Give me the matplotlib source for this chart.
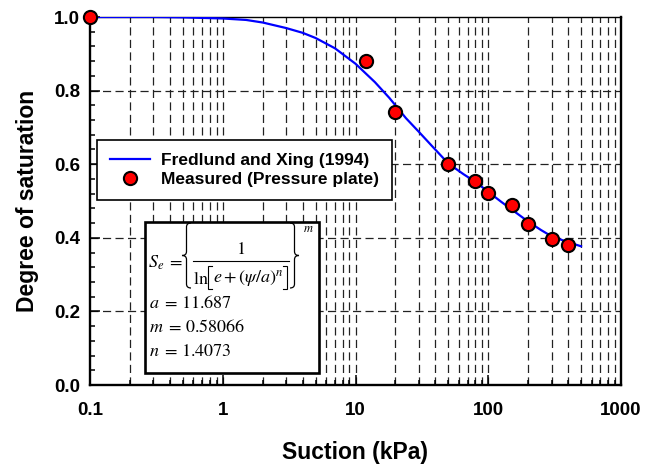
import numpy as np
import matplotlib
matplotlib.use("Agg")
import matplotlib.pyplot as plt
from matplotlib.patches import Rectangle, PathPatch
from matplotlib.path import Path
from matplotlib.lines import Line2D
from matplotlib.ticker import LogLocator, FixedLocator, FuncFormatter

plt.rcParams["font.family"] = ["Liberation Sans", "DejaVu Sans"]
plt.rcParams["mathtext.fontset"] = "stix"

W, H = 661, 466

# measured points (pressure plate)
meas_suction = [0.1, 12, 20, 50, 80, 100, 150, 200, 300, 400]
meas_sat = [1.0, 0.880, 0.742, 0.600, 0.555, 0.521, 0.489, 0.438, 0.398, 0.381]

# fitted curve, values
fit_suction = [0.1, 0.3, 0.5, 1, 1.5, 2, 3, 4, 5, 7, 10, 14, 18, 24, 30, 38,
               50, 65, 80, 100, 125, 150, 200, 250, 300, 400, 500]
fit_sat = [1.000, 1.000, 0.999, 0.996, 0.992, 0.985, 0.970, 0.957, 0.943, 0.915,
           0.873, 0.823, 0.780, 0.725, 0.688, 0.648, 0.602, 0.573, 0.552, 0.525,
           0.498, 0.477, 0.444, 0.421, 0.404, 0.388, 0.377]

fit_params = [("a", "11.687"), ("m", "0.58066"), ("n", "1.4073")]


def px(x, y):
    # pixel position (from top left) -> figure fraction
    return x / W, 1 - y / H


def brace(ax, xtip, xend, ytop, ybot, r=4):
    xm = (xtip + xend) / 2.0
    ymid = (ytop + ybot) / 2.0
    pts = [(xend, ytop), (xm, ytop), (xm, ytop + r), (xm, ymid - r),
           (xm, ymid), (xtip, ymid), (xm, ymid), (xm, ymid + r),
           (xm, ybot - r), (xm, ybot), (xend, ybot)]
    codes = [Path.MOVETO, Path.CURVE3, Path.CURVE3, Path.LINETO,
             Path.CURVE3, Path.CURVE3, Path.CURVE3, Path.CURVE3,
             Path.LINETO, Path.CURVE3, Path.CURVE3]
    verts = [px(x, y) for x, y in pts]
    ax.add_patch(PathPatch(Path(verts, codes), transform=ax.figure.transFigure,
                           fill=False, lw=0.9, edgecolor="black", zorder=7,
                           clip_on=False))


def bracket(ax, xv, xh, ytop, ybot):
    pts = [px(xh, ytop), px(xv, ytop), px(xv, ybot), px(xh, ybot)]
    xs, ys = zip(*pts)
    ax.add_line(Line2D(xs, ys, transform=ax.figure.transFigure, color="black",
                       lw=0.8, zorder=7, solid_joinstyle="miter"))


fig = plt.figure(figsize=(W / 100, H / 100), dpi=100)
ax = fig.add_axes([90 / W, 1 - 385 / H, 531 / W, 368 / H])

dash = (0, (6.5, 3.5))
# grid
for dec in [0.1, 1, 10, 100]:
    for k in range(1, 10):
        v = dec * k
        if v <= 0.1:
            continue
        ax.axvline(v, color="#222222", lw=0.9, ls=dash, zorder=1)
for yv in [0.2, 0.4, 0.6, 0.8]:
    ax.axhline(yv, color="#222222", lw=0.9, ls=dash, zorder=1)

ax.plot(fit_suction, fit_sat, color="#0000ff", lw=1.6, zorder=3,
        label="Fredlund and Xing (1994)")
ax.plot(meas_suction, meas_sat, ls="none", marker="o", ms=9.5, mfc="#ff0000",
        mec="black", mew=1.5, zorder=4, clip_on=False,
        label="Measured (Pressure plate)")

ax.set_xscale("log")
ax.set_xlim(0.1, 1000)
ax.set_ylim(0, 1.0)
ax.xaxis.set_major_locator(FixedLocator([0.1, 1, 10, 100, 1000]))
ax.xaxis.set_major_formatter(FuncFormatter(lambda v, p: "%g" % v))
ax.xaxis.set_minor_locator(LogLocator(base=10, subs=np.arange(2, 10)))
ax.xaxis.set_minor_formatter(FuncFormatter(lambda v, p: ""))
ax.set_yticks([0, 0.2, 0.4, 0.6, 0.8, 1.0])
ax.set_yticks(np.arange(0, 1.001, 0.04), minor=True)
ax.yaxis.set_major_formatter(FuncFormatter(lambda v, p: "%.1f" % v))

ax.tick_params(which="both", direction="in", top=False, right=False, width=1.1)
ax.tick_params(which="major", length=7, labelsize=13.5)
ax.tick_params(which="minor", length=3.5)
ax.tick_params(axis="x", which="major", pad=12)
ax.tick_params(axis="y", which="major", pad=7)
for lab in ax.get_xticklabels() + ax.get_yticklabels():
    lab.set_fontweight("bold")
for sp in ax.spines.values():
    sp.set_linewidth(1.7)
ax.spines["top"].set_linewidth(1.0)

ax.set_xlabel("Suction (kPa)", fontsize=16.5, fontweight="bold", labelpad=16)
ax.set_ylabel("Degree of saturation", fontsize=16.5, fontweight="bold", labelpad=11)

leg = ax.legend(loc="upper left", bbox_to_anchor=(7 / 531, (385 - 140) / 368),
                borderaxespad=0, fancybox=False, edgecolor="black", framealpha=1,
                prop={"weight": "bold", "size": 12.5}, handlelength=2.3,
                handletextpad=0.65, borderpad=0.75, labelspacing=0.22)
leg.get_frame().set_linewidth(1.2)
leg.set_zorder(5)

# equation box
x0, y0 = px(145, 373)
x1, y1 = px(319, 222)
ax.add_patch(Rectangle((x0, y0), x1 - x0, y1 - y0, transform=fig.transFigure,
                       facecolor="white", edgecolor="black", lw=1.9, zorder=6,
                       clip_on=False))

eq = dict(transform=fig.transFigure, fontsize=13, zorder=7)
ax.text(*px(148, 263), r"$S_e\;=$", va="center", ha="left", **eq)
brace(ax, 182, 191, 223, 288)
brace(ax, 299, 290, 223, 288)
ax.text(*px(241, 249), r"$1$", va="center", ha="center", **eq)
ax.add_line(Line2D(*zip(px(193, 261), px(289, 261)), transform=fig.transFigure,
                   color="black", lw=0.8, zorder=7))
ax.text(*px(193, 279), r"$\ln$", va="center", ha="left", **eq)
bracket(ax, 208, 212, 266, 289)
ax.text(*px(248, 279), r"$e+\left(\psi/a\right)^n$", va="center", ha="center", **eq)
bracket(ax, 287, 283, 266, 289)
ax.text(*px(303, 229), r"$m$", va="center", ha="left",
        transform=fig.transFigure, fontsize=9, zorder=7)

for i, (name, val) in enumerate(fit_params):
    ax.text(*px(149, 303 + i * 24.5), r"$%s\;=\,%s$" % (name, val),
            va="center", ha="left", **eq)

fig.savefig("out.png", dpi=100)
